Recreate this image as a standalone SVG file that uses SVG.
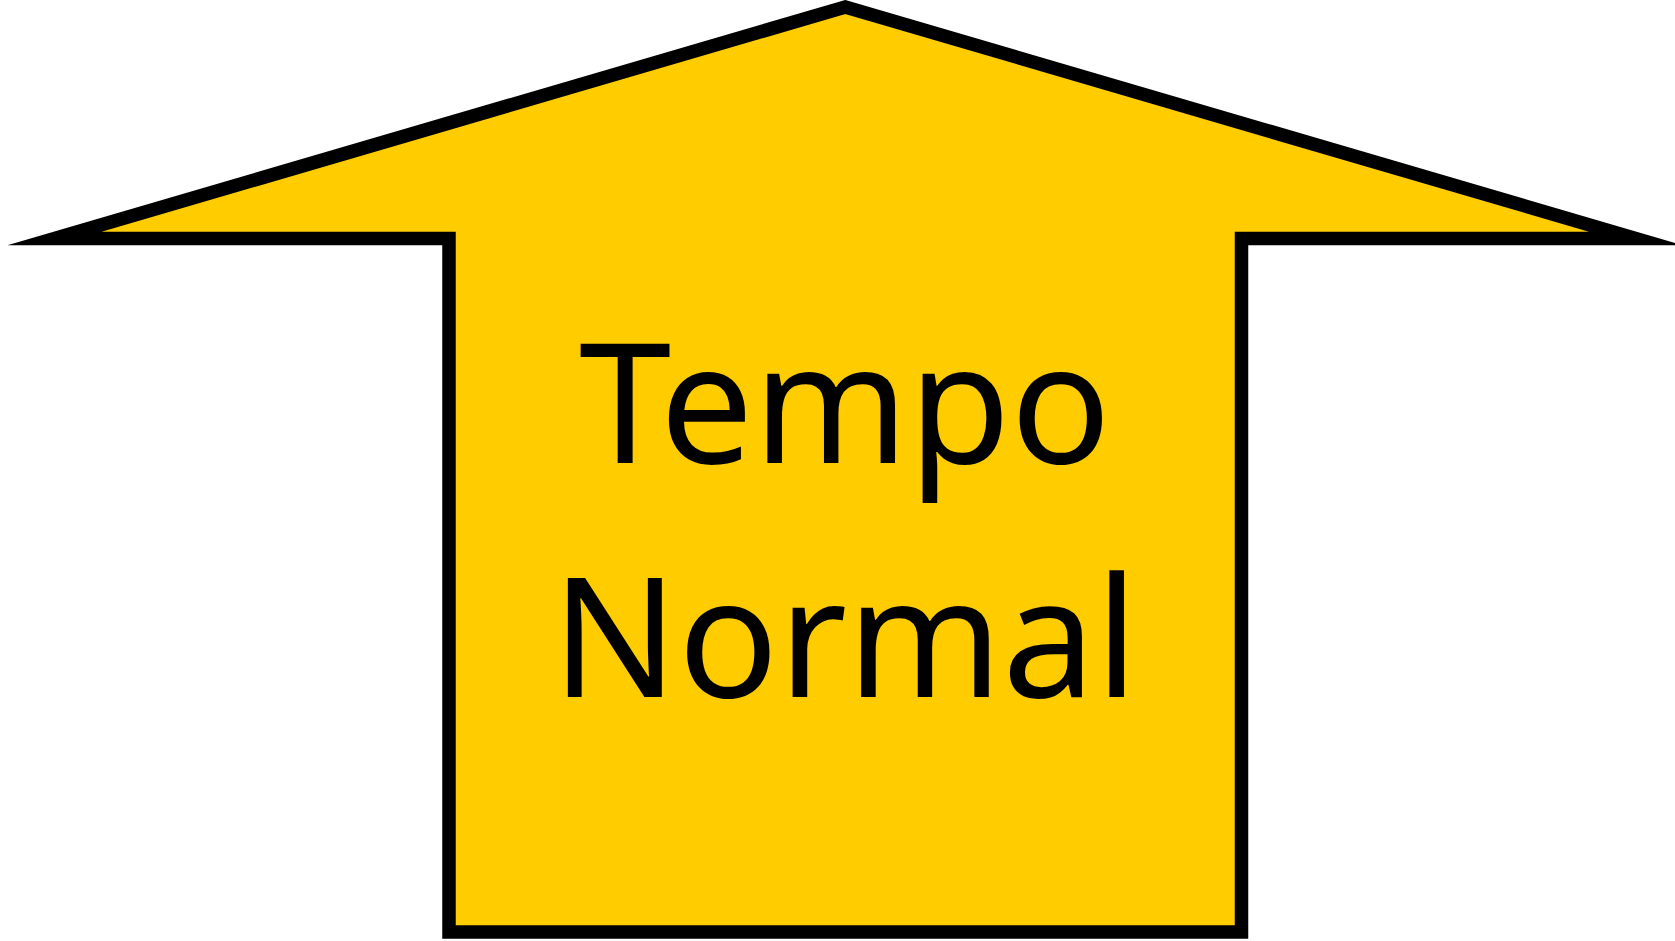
<svg xmlns="http://www.w3.org/2000/svg" width="1675" height="941" viewBox="0 0 1675 941">
<style>
.arrow{fill:#FFCC00;stroke:#000;stroke-width:13.5;stroke-miterlimit:12;stroke-linejoin:miter}
.lbl{font-family:"Noto Sans","Open Sans","Liberation Sans",sans-serif;font-size:166px;fill:#000;text-anchor:middle}
</style>
<rect width="1675" height="941" fill="#fff"/>
<g id="arrow">
<polygon class="arrow" points="845.25,7 1636,238.5 1241.5,238.5 1241.5,932 449,932 449,238.5 54.5,238.5"/>
<text class="lbl" x="845" y="463">Tempo</text>
<text class="lbl" x="845" y="697">Normal</text>
</g>
</svg>
